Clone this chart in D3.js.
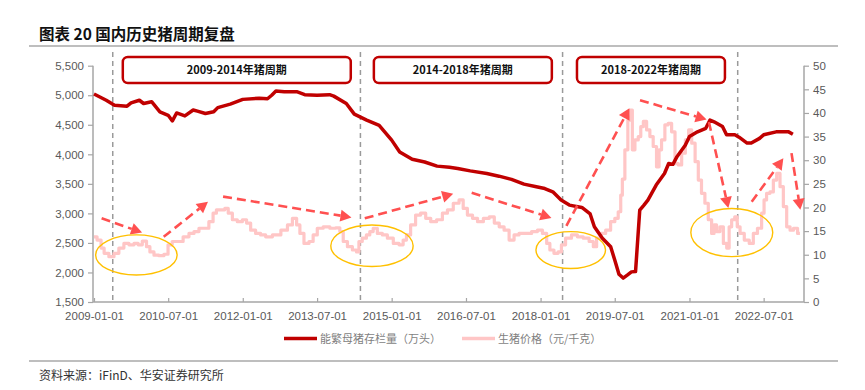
<!DOCTYPE html>
<html><head><meta charset="utf-8">
<script src="https://cdn.jsdelivr.net/npm/d3@7"></script>
<style>body{margin:0;background:#fff}</style>
</head><body><svg id="c" width="865" height="390"></svg>
<script>
// ---------------- DATA ----------------
const titleText = "图表 20 国内历史猪周期复盘";
const sourceText = "资料来源：iFinD、华安证券研究所";
const seriesNames = ["能繁母猪存栏量（万头）", "生猪价格（元/千克）"];

const sowDates = ["2009-01-01","2009-04-01","2009-06-01","2009-09-01","2009-10-01","2009-12-01","2010-01-01","2010-03-01","2010-05-01","2010-07-01","2010-08-01","2010-09-01","2010-11-01","2011-01-01","2011-02-01","2011-04-01","2011-06-01","2011-07-01","2011-10-01","2012-01-01","2012-05-01","2012-07-01","2012-08-01","2012-09-01","2012-11-01","2013-02-01","2013-04-01","2013-07-01","2013-10-01","2013-11-01","2014-02-01","2014-04-01","2014-07-01","2014-10-01","2014-11-01","2015-01-01","2015-03-01","2015-06-01","2015-09-01","2015-12-01","2016-03-01","2016-05-01","2016-08-01","2016-12-01","2017-03-01","2017-06-01","2017-09-01","2017-12-01","2018-02-01","2018-04-01","2018-06-01","2018-08-01","2018-11-01","2019-01-01","2019-02-01","2019-04-01","2019-06-01","2019-07-01","2019-08-01","2019-09-01","2019-10-01","2019-11-01","2019-12-01","2020-01-01","2020-02-01","2020-03-01","2020-05-01","2020-07-01","2020-08-01","2020-09-01","2020-10-01","2020-12-01","2021-01-01","2021-03-01","2021-05-01","2021-06-01","2021-07-01","2021-09-01","2021-10-01","2021-12-01","2022-01-01","2022-03-01","2022-04-01","2022-06-01","2022-07-01","2022-10-01","2023-01-01","2023-02-01"];
const sowValues = [5020,4915,4830,4815,4870,4915,4860,4890,4720,4660,4565,4700,4650,4750,4730,4690,4720,4790,4850,4930,4950,4940,5000,5070,5060,5060,5010,5000,5010,4985,4860,4680,4580,4490,4405,4240,4040,3915,3870,3800,3780,3760,3720,3675,3630,3575,3495,3450,3420,3365,3225,3140,3100,2990,2775,2580,2435,2210,1970,1905,1955,2010,2015,3055,3140,3225,3480,3675,3845,3830,3960,4155,4300,4380,4440,4580,4550,4470,4330,4330,4290,4190,4190,4270,4330,4380,4380,4340];

const priceDates = ["2009-01-01","2009-02-15","2009-03-01","2009-04-01","2009-05-10","2009-06-15","2009-07-21","2009-08-28","2009-10-04","2009-11-10","2009-12-04","2010-01-10","2010-02-04","2010-03-01","2010-04-05","2010-05-12","2010-06-18","2010-07-12","2010-08-18","2010-09-24","2010-11-13","2010-12-19","2011-01-26","2011-03-02","2011-04-08","2011-05-15","2011-06-09","2011-07-03","2011-08-09","2011-09-04","2011-09-28","2011-11-04","2011-12-10","2012-01-17","2012-02-10","2012-03-17","2012-04-23","2012-05-30","2012-07-06","2012-09-07","2012-11-07","2012-12-13","2013-01-19","2013-02-13","2013-03-08","2013-04-14","2013-05-21","2013-06-14","2013-07-21","2013-09-09","2013-10-27","2013-12-03","2013-12-28","2014-01-22","2014-02-28","2014-04-05","2014-04-29","2014-05-11","2014-06-17","2014-07-11","2014-08-06","2014-08-30","2014-10-06","2014-11-12","2014-12-19","2015-02-07","2015-03-14","2015-04-08","2015-05-02","2015-06-08","2015-07-14","2015-08-21","2015-09-27","2015-11-03","2015-12-22","2016-01-28","2016-03-05","2016-04-23","2016-05-29","2016-06-23","2016-07-30","2016-09-06","2016-10-12","2016-12-01","2017-01-07","2017-02-13","2017-03-20","2017-04-26","2017-06-02","2017-07-08","2017-08-14","2017-10-02","2017-11-21","2017-12-27","2018-02-03","2018-02-27","2018-03-22","2018-04-28","2018-05-22","2018-06-16","2018-07-22","2018-09-11","2018-10-17","2018-12-06","2019-01-12","2019-02-06","2019-03-01","2019-04-07","2019-05-13","2019-06-19","2019-07-14","2019-08-08","2019-08-20","2019-09-01","2019-09-26","2019-10-15","2019-11-01","2019-11-14","2019-12-09","2020-01-02","2020-01-15","2020-02-09","2020-03-03","2020-03-28","2020-04-21","2020-05-16","2020-05-28","2020-06-22","2020-07-16","2020-08-10","2020-09-04","2020-09-29","2020-10-23","2020-11-17","2020-12-16","2021-01-05","2021-01-30","2021-02-24","2021-03-18","2021-04-12","2021-05-07","2021-06-01","2021-06-25","2021-07-07","2021-08-01","2021-08-26","2021-09-20","2021-10-14","2021-10-26","2021-11-20","2021-12-10","2021-12-27","2022-01-21","2022-02-27","2022-04-04","2022-04-28","2022-06-04","2022-06-28","2022-07-10","2022-08-04","2022-08-29","2022-09-23","2022-10-17","2022-11-11","2022-12-05","2022-12-30","2023-01-24","2023-02-18","2023-03-25"];
const priceValues = [13.8,13.1,11.4,10.3,9.6,10.3,11.4,12.4,12.1,12.4,12.1,12.9,11.7,10.6,9.9,9.8,10.1,12.1,12.8,12.8,13.8,14.5,14.9,15.6,15.6,17.0,18.8,19.5,19.5,19.8,18.8,17.4,17.0,17.4,16.7,15.2,14.5,14.2,13.8,14.2,15.2,16.3,17.7,16.3,14.5,12.4,12.8,14.2,15.6,15.9,15.6,15.7,14.9,12.8,11.7,11.0,10.6,12.8,13.5,14.2,14.9,15.6,14.5,14.2,13.5,12.4,12.1,13.1,14.2,16.3,18.4,18.8,17.7,17.0,17.4,18.8,19.5,20.9,21.6,19.8,18.4,17.7,17.0,17.7,18.0,16.7,15.9,15.2,13.1,14.2,14.5,14.5,14.9,15.2,14.5,12.4,11.0,10.3,10.6,12.1,13.5,14.2,13.8,13.5,12.8,11.7,13.5,14.5,15.2,17.0,17.7,19.1,22.6,26.0,32.2,38.5,40.6,32.2,34.3,35.0,37.1,38.2,36.4,35.0,32.9,28.6,32.2,34.3,37.5,37.8,36.0,29.3,29.0,31.5,34.3,36.4,33.6,29.7,25.8,23.0,20.9,17.4,14.5,16.3,14.9,15.9,12.4,11.4,15.9,17.4,18.0,15.9,14.5,13.1,12.4,14.5,15.6,18.8,21.6,23.0,23.3,25.8,27.2,24.4,20.2,15.9,15.2,15.6,14.5];

const leftTicks = [1500,2000,2500,3000,3500,4000,4500,5000,5500];
const rightTicks = [0,5,10,15,20,25,30,35,40,45,50];
const xTickLabels = ["2009-01-01","2010-07-01","2012-01-01","2013-07-01","2015-01-01","2016-07-01","2018-01-01","2019-07-01","2021-01-01","2022-07-01"];

// pig cycles
const cycleLabels = ["2009-2014年猪周期","2014-2018年猪周期","2018-2022年猪周期"];
const cycleBoxStart = ["2009-08-01","2014-08-23","2018-09-26"];
const cycleBoxEnd   = ["2014-03-06","2018-03-25","2021-09-19"];
const cycleDividers = ["2009-05-19","2014-05-16","2018-06-12","2021-12-22"];

// trend arrows (date, price) -> (date, price)
const arrowFromDate = ["2009-02-26","2010-05-29","2011-08-09","2014-06-17","2016-08-12","2018-07-10","2020-01-03","2021-05-24","2022-04-04","2023-01-22"];
const arrowFromVal  = [17.7,13.8,22.3,17.7,23.1,16.1,42.7,38.1,21.2,31.5];
const arrowToDate   = ["2009-12-21","2011-04-20","2014-03-11","2016-03-29","2018-03-22","2019-10-17","2021-05-07","2021-10-14","2022-11-23","2023-03-28"];
const arrowToVal    = [14.7,21.2,17.9,22.9,17.8,41.0,38.6,19.9,30.4,19.5];

// bottom zones (ellipses): date span, price span
const zoneStart = ["2009-01-13","2013-10-10","2017-11-28","2021-01-11"];
const zoneEnd   = ["2010-09-05","2015-06-08","2019-04-24","2022-09-06"];
const zoneTop   = [14.2,16.3,14.9,19.8];
const zoneBot   = [5.7,7.5,7.1,9.6];

// ---------------- CHART ----------------
const parse = d3.timeParse("%Y-%m-%d");
const fmt = d3.timeFormat("%Y-%m-%d");
const svg = d3.select("#c");
const latin = "'Liberation Sans', Arial, sans-serif";
const cjk = "'Noto Sans CJK SC', sans-serif";
const axisCol = "#a6a6a6", labCol = "#595959";

const L = 93, R = 804, T = 65.7, B = 302;
const x = d3.scaleTime().domain([parse("2009-01-01"), parse("2023-04-24")]).range([94, R]);
const yL = d3.scaleLinear().domain([1500, 5500]).range([B, T]);
const yR = d3.scaleLinear().domain([0, 50]).range([B, T]);

// title
svg.append("text").attr("x", 39).attr("y", 40).attr("font-family", cjk).attr("font-weight", "bold")
  .attr("font-size", 15.5).attr("fill", "#111").text(titleText);
svg.append("line").attr("x1", 29).attr("x2", 838).attr("y1", 46).attr("y2", 46).attr("stroke", "#7f7f7f").attr("stroke-width", 1.2);
svg.append("line").attr("x1", 29).attr("x2", 838).attr("y1", 361).attr("y2", 361).attr("stroke", "#7f7f7f").attr("stroke-width", 1.2);
svg.append("text").attr("x", 39).attr("y", 380).attr("font-family", cjk)
  .attr("font-size", 12).attr("fill", "#333").text(sourceText);

// divider lines
svg.append("g").selectAll("line").data(cycleDividers).join("line")
  .attr("x1", d => x(parse(d))).attr("x2", d => x(parse(d)))
  .attr("y1", 52).attr("y2", B)
  .attr("stroke", "#9a9a9a").attr("stroke-width", 1.5).attr("stroke-dasharray", "5,4");

// axes
const gx = svg.append("g").attr("transform", `translate(0,${B})`)
  .call(d3.axisBottom(x).tickValues(xTickLabels.map(parse)).tickFormat(fmt).tickSize(4).tickPadding(6));
const gl = svg.append("g").attr("transform", `translate(${L},0)`)
  .call(d3.axisLeft(yL).tickValues(leftTicks).tickFormat(d3.format(",")).tickSize(5).tickPadding(4));
const gr = svg.append("g").attr("transform", `translate(${R},0)`)
  .call(d3.axisRight(yR).tickValues(rightTicks).tickSize(5).tickPadding(4));
[gx, gl, gr].forEach(g => {
  g.select(".domain").remove();
  g.selectAll(".tick line").attr("stroke", axisCol).attr("stroke-width", 1.2);
  g.selectAll("text").attr("font-family", latin).attr("font-size", 11.5).attr("fill", labCol);
});
gx.selectAll(".tick line").attr("y1", -4).attr("y2", 0);
svg.append("line").attr("x1", L).attr("x2", R).attr("y1", B).attr("y2", B).attr("stroke", axisCol).attr("stroke-width", 1.5);
svg.append("line").attr("x1", L).attr("x2", L).attr("y1", T).attr("y2", B).attr("stroke", axisCol).attr("stroke-width", 1.5);
svg.append("line").attr("x1", R).attr("x2", R).attr("y1", T).attr("y2", B).attr("stroke", axisCol).attr("stroke-width", 1.5);

// cycle boxes
const cg = svg.append("g").selectAll("g").data(cycleLabels).join("g");
cg.append("rect")
  .attr("x", (d, i) => x(parse(cycleBoxStart[i])))
  .attr("width", (d, i) => x(parse(cycleBoxEnd[i])) - x(parse(cycleBoxStart[i])))
  .attr("y", 57).attr("height", 26).attr("rx", 5)
  .attr("fill", "#fff").attr("stroke", "#c00000").attr("stroke-width", 2.5);
cg.append("text")
  .attr("x", (d, i) => (x(parse(cycleBoxEnd[i])) + x(parse(cycleBoxStart[i]))) / 2)
  .attr("y", 74).attr("text-anchor", "middle")
  .attr("font-family", cjk).attr("font-weight", "bold").attr("font-size", 11).attr("fill", "#111")
  .text(d => d);

// price line
const priceData = priceDates.map((d, i) => ({ d: parse(d), v: priceValues[i] }));
svg.append("path").datum(priceData)
  .attr("d", d3.line().x(p => x(p.d)).y(p => yR(p.v)).curve(d3.curveStep))
  .attr("fill", "none").attr("stroke", "#ffc6c6").attr("stroke-width", 3.2).attr("stroke-linejoin", "round");

// sow line
const sowData = sowDates.map((d, i) => ({ d: parse(d), v: sowValues[i] }));
svg.append("path").datum(sowData)
  .attr("d", d3.line().x(p => x(p.d)).y(p => yL(p.v)))
  .attr("fill", "none").attr("stroke", "#c00000").attr("stroke-width", 3.5).attr("stroke-linejoin", "round");

// arrows
const arrowCol = "#ff5050";
const ag = svg.append("g");
arrowFromDate.forEach((fd, i) => {
  const x1 = x(parse(fd)), y1 = yR(arrowFromVal[i]);
  const x2 = x(parse(arrowToDate[i])), y2 = yR(arrowToVal[i]);
  const ang = Math.atan2(y2 - y1, x2 - x1);
  const hl = 11, hw = 6;
  const bx = x2 - hl * Math.cos(ang), by = y2 - hl * Math.sin(ang);
  ag.append("line").attr("x1", x1).attr("y1", y1).attr("x2", bx).attr("y2", by)
    .attr("stroke", arrowCol).attr("stroke-width", 2.6).attr("stroke-dasharray", "9,5");
  const px = -Math.sin(ang), py = Math.cos(ang);
  ag.append("path").attr("d", `M${x2},${y2}L${bx + px * hw},${by + py * hw}L${bx - px * hw},${by - py * hw}Z`)
    .attr("fill", arrowCol);
});

// zones
svg.append("g").selectAll("ellipse").data(zoneStart).join("ellipse")
  .attr("cx", (d, i) => (x(parse(d)) + x(parse(zoneEnd[i]))) / 2)
  .attr("cy", (d, i) => (yR(zoneTop[i]) + yR(zoneBot[i])) / 2)
  .attr("rx", (d, i) => (x(parse(zoneEnd[i])) - x(parse(d))) / 2)
  .attr("ry", (d, i) => (yR(zoneBot[i]) - yR(zoneTop[i])) / 2)
  .attr("fill", "none").attr("stroke", "#ffc000").attr("stroke-width", 1.4);

// legend
const lg = svg.append("g");
const legItems = [{ x: 284, col: "#c00000", w: 3.5 }, { x: 462, col: "#ffc6c6", w: 3.5 }];
legItems.forEach((it, i) => {
  lg.append("line").attr("x1", it.x).attr("x2", it.x + 33).attr("y1", 338.5).attr("y2", 338.5)
    .attr("stroke", it.col).attr("stroke-width", it.w);
  lg.append("text").attr("x", it.x + 36).attr("y", 342.5).attr("font-family", cjk)
    .attr("font-size", 11).attr("fill", "#7f7f7f").text(seriesNames[i]);
});
</script>
</body></html>
